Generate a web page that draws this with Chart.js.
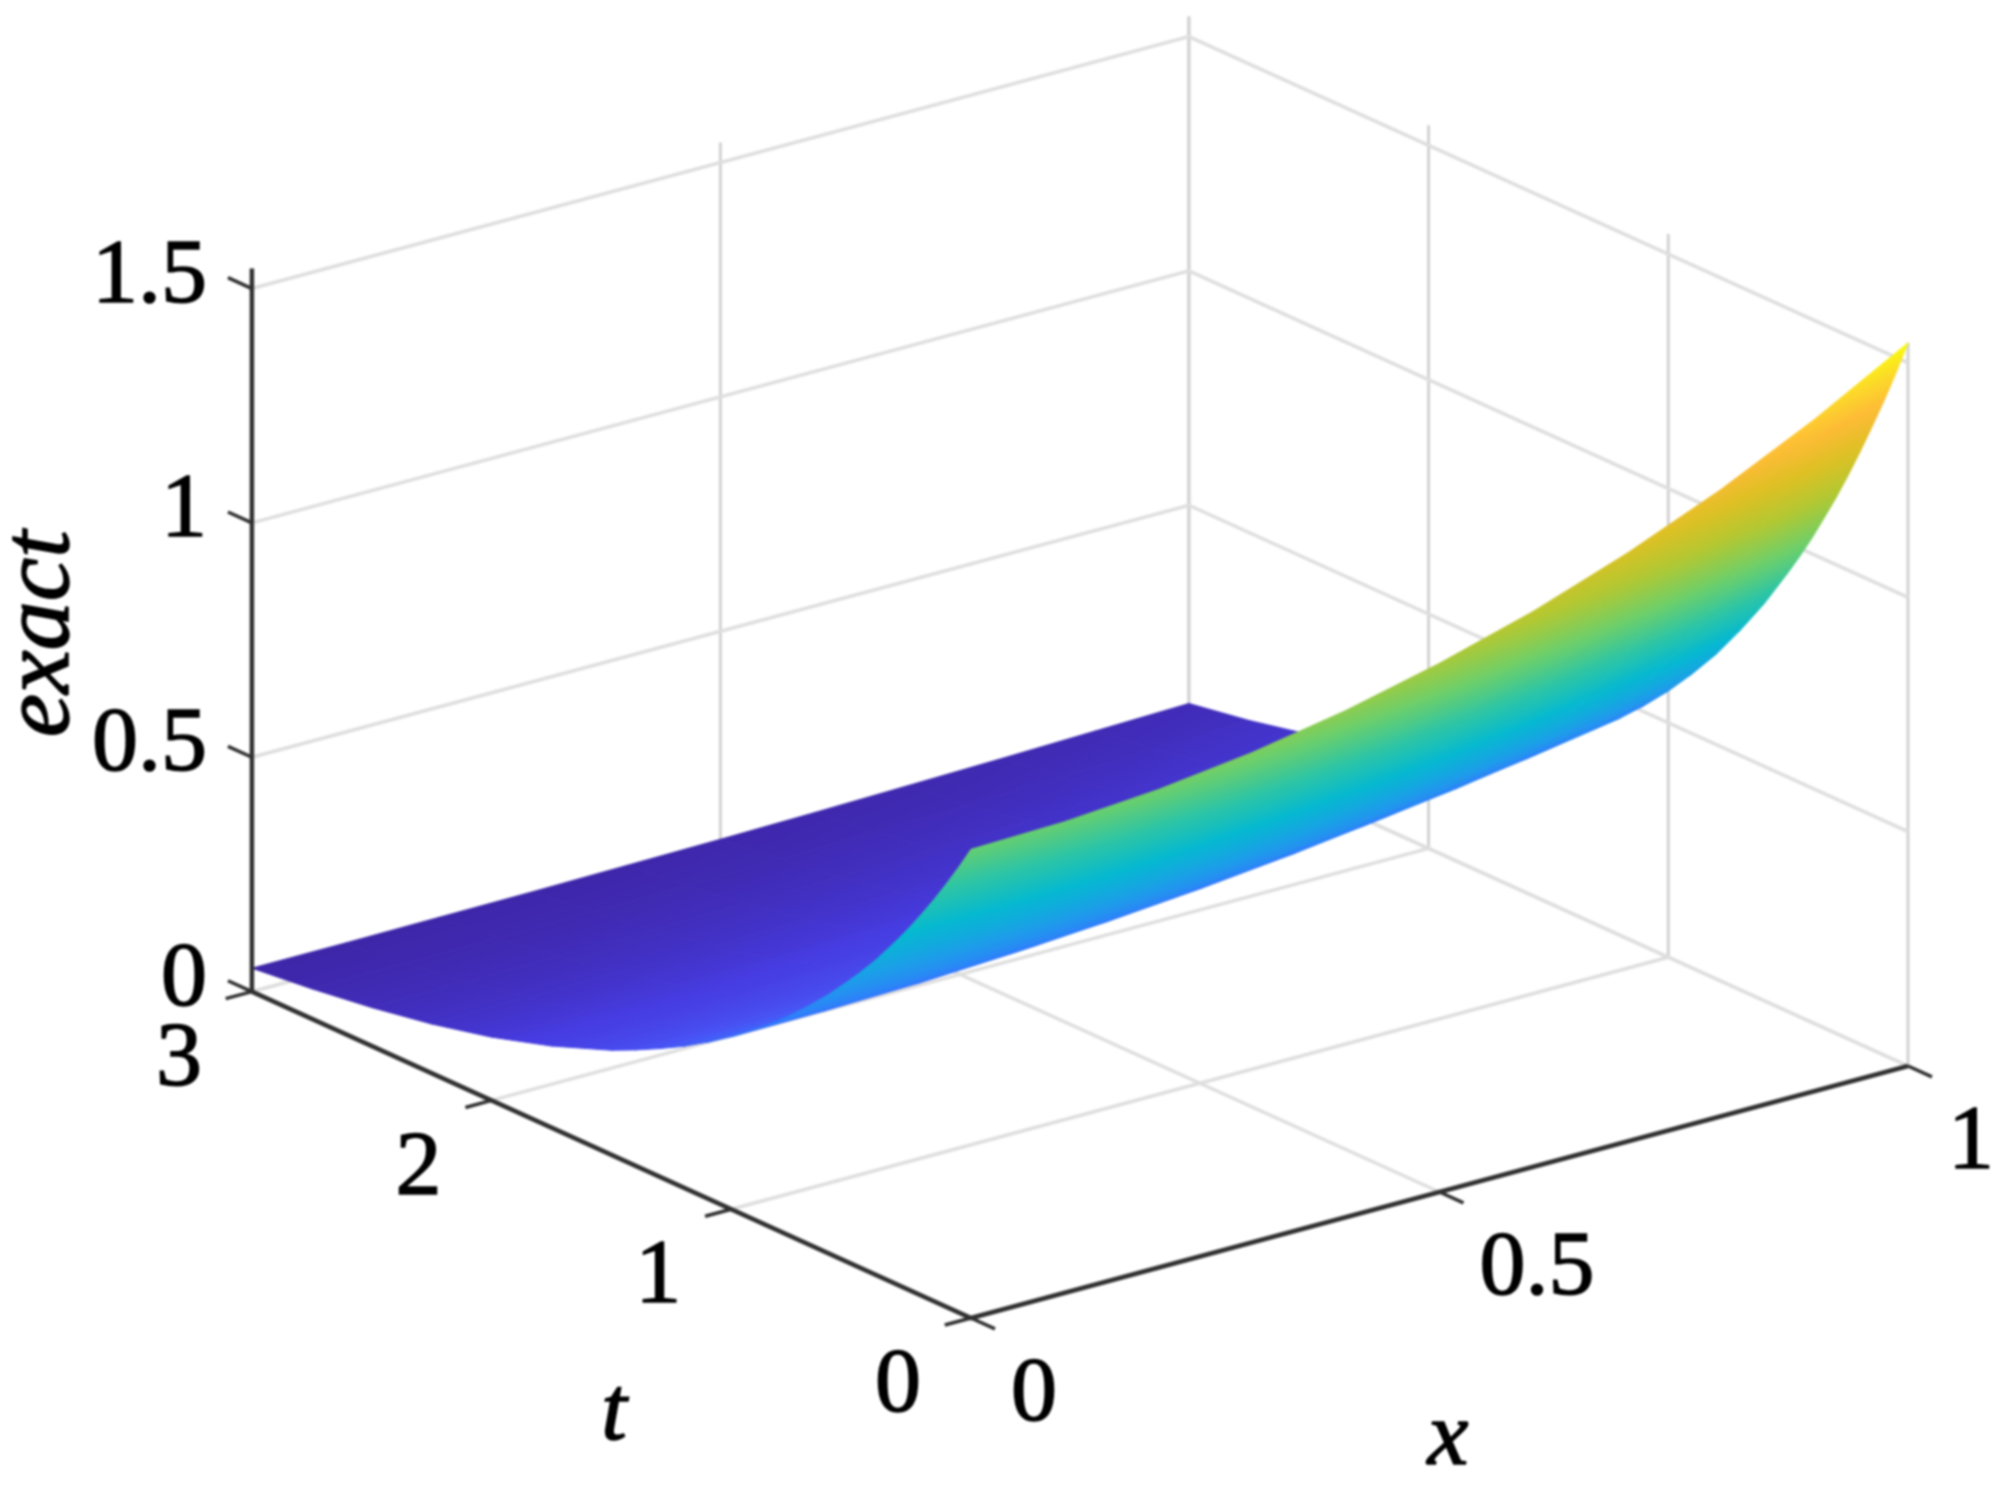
<!DOCTYPE html>
<html>
<head>
<meta charset="utf-8">
<title>exact</title>
<script src="https://cdn.jsdelivr.net/npm/chart.js@4/dist/chart.umd.js"></script>
<style>
    html, body { margin: 0; padding: 0; background: #fff; }
    /* the reference is a soft upscale */
    canvas { display: block; filter: blur(0.8px); }
</style>
</head>
<body>
<canvas id="chart" width="2000" height="1499"></canvas>
<script>
const xTicks = [0, 0.5, 1];
const tTicks = [0, 1, 2, 3];
const zTicks = [0, 0.5, 1, 1.5];
const xTickLabels = ['0', '0.5', '1'];
const tTickLabels = ['0', '1', '2', '3'];
const zTickLabels = ['0', '0.5', '1', '1.5'];
const zTop = 1.543;

// surface, one row per t, one column per x
const xGrid = [0, 0.1, 0.2, 0.3, 0.4, 0.5, 0.6, 0.7, 0.8, 0.9, 1];
const tGrid = [0, 0.05, 0.1, 0.15, 0.2, 0.25, 0.3, 0.35, 0.4, 0.45, 0.5, 0.6, 0.7, 0.8, 0.9, 1, 1.1, 1.2, 1.3, 1.4, 1.5, 1.75, 2, 2.25, 2.5, 2.75, 3];
const exact = [
    [1.000, 1.005, 1.020, 1.045, 1.081, 1.128, 1.185, 1.255, 1.337, 1.433, 1.543],
    [0.951, 0.956, 0.970, 0.994, 1.028, 1.073, 1.127, 1.194, 1.271, 1.363, 1.467],
    [0.905, 0.910, 0.923, 0.946, 0.978, 1.021, 1.072, 1.136, 1.210, 1.297, 1.396],
    [0.861, 0.865, 0.878, 0.900, 0.931, 0.971, 1.020, 1.081, 1.151, 1.234, 1.329],
    [0.819, 0.823, 0.835, 0.856, 0.885, 0.924, 0.971, 1.028, 1.095, 1.174, 1.264],
    [0.779, 0.783, 0.795, 0.814, 0.842, 0.879, 0.923, 0.978, 1.042, 1.116, 1.202],
    [0.741, 0.745, 0.756, 0.774, 0.801, 0.836, 0.878, 0.930, 0.991, 1.062, 1.143],
    [0.705, 0.709, 0.719, 0.737, 0.762, 0.795, 0.835, 0.885, 0.943, 1.010, 1.088],
    [0.670, 0.673, 0.683, 0.700, 0.724, 0.756, 0.794, 0.841, 0.896, 0.960, 1.034],
    [0.638, 0.641, 0.651, 0.667, 0.690, 0.720, 0.756, 0.801, 0.853, 0.914, 0.984],
    [0.607, 0.610, 0.619, 0.634, 0.656, 0.685, 0.719, 0.762, 0.812, 0.870, 0.937],
    [0.549, 0.552, 0.560, 0.574, 0.593, 0.619, 0.651, 0.689, 0.734, 0.787, 0.847],
    [0.497, 0.499, 0.507, 0.519, 0.537, 0.561, 0.589, 0.624, 0.664, 0.712, 0.767],
    [0.449, 0.451, 0.458, 0.469, 0.485, 0.506, 0.532, 0.563, 0.600, 0.643, 0.693],
    [0.407, 0.409, 0.415, 0.425, 0.440, 0.459, 0.482, 0.511, 0.544, 0.583, 0.628],
    [0.368, 0.370, 0.375, 0.385, 0.398, 0.415, 0.436, 0.462, 0.492, 0.527, 0.568],
    [0.333, 0.335, 0.340, 0.348, 0.360, 0.376, 0.395, 0.418, 0.445, 0.477, 0.514],
    [0.301, 0.303, 0.307, 0.315, 0.325, 0.340, 0.357, 0.378, 0.402, 0.431, 0.464],
    [0.273, 0.274, 0.278, 0.285, 0.295, 0.308, 0.324, 0.343, 0.365, 0.391, 0.421],
    [0.247, 0.248, 0.252, 0.258, 0.267, 0.279, 0.293, 0.310, 0.330, 0.354, 0.381],
    [0.223, 0.224, 0.227, 0.233, 0.241, 0.252, 0.264, 0.280, 0.298, 0.320, 0.344],
    [0.174, 0.175, 0.177, 0.182, 0.188, 0.196, 0.206, 0.218, 0.233, 0.249, 0.268],
    [0.135, 0.136, 0.138, 0.141, 0.146, 0.152, 0.160, 0.169, 0.180, 0.193, 0.208],
    [0.105, 0.106, 0.107, 0.110, 0.114, 0.118, 0.124, 0.132, 0.140, 0.150, 0.162],
    [0.082, 0.082, 0.084, 0.086, 0.089, 0.092, 0.097, 0.103, 0.110, 0.118, 0.127],
    [0.064, 0.064, 0.065, 0.067, 0.069, 0.072, 0.076, 0.080, 0.086, 0.092, 0.099],
    [0.050, 0.050, 0.051, 0.052, 0.054, 0.056, 0.059, 0.063, 0.067, 0.072, 0.077],
];

const gridColor = '#dedede';
const wallColor = '#d2d2d2';
const axisColor = '#303030';
const serif = '"Liberation Serif", serif';

const parula = [
    [0.00, 62, 38, 168], [0.07, 70, 60, 225], [0.14, 72, 82, 244], [0.24, 50, 120, 254],
    [0.36, 30, 155, 235], [0.47, 5, 185, 208], [0.56, 45, 197, 165], [0.65, 110, 207, 105],
    [0.74, 178, 200, 50], [0.82, 222, 192, 35], [0.89, 254, 187, 55], [0.95, 252, 218, 40], [1.00, 249, 251, 14],
];
const zMin = 0.05;
const zMax = 1.543;

function parulaColor(z) {
    let f = Math.min(1, Math.max(0, (z - zMin) / (zMax - zMin)));
    for (let k = 1; k < parula.length; k++) {
        if (f <= parula[k][0]) {
            let a = parula[k - 1], b = parula[k];
            let w = (f - a[0]) / (b[0] - a[0]);
            return `rgb(${a[1] + w * (b[1] - a[1])},${a[2] + w * (b[2] - a[2])},${a[3] + w * (b[3] - a[3])})`;
        }
    }
    return 'rgb(249,251,14)';
}

// orthographic view of the box, from the corners of the axes in the picture
function project(x, t, z) {
    return {
        x: 971 + 937 * x - 239.7 * t,
        y: 1318 - 252 * x - 108.8 * t - 468.7 * z,
    };
}

function cellGradient(chart, i, j) {
    let ctx = chart.ctx;
    let sx = chart.scales.x, sy = chart.scales.y;
    let px = (x, t, z) => {
        let p = project(x, t, z);
        return { x: sx.getPixelForValue(p.x), y: sy.getPixelForValue(p.y) };
    };
    let z00 = exact[i][j], z10 = exact[i][j + 1], z01 = exact[i + 1][j], z11 = exact[i + 1][j + 1];
    let lo = Math.min(z00, z10, z01, z11), hi = Math.max(z00, z10, z01, z11);
    let p00 = px(xGrid[j], tGrid[i], z00);
    let p10 = px(xGrid[j + 1], tGrid[i], z10);
    let p01 = px(xGrid[j], tGrid[i + 1], z01);
    let ax = p10.x - p00.x, ay = p10.y - p00.y;
    let bx = p01.x - p00.x, by = p01.y - p00.y;
    let det = ax * by - ay * bx;
    // scales have no size yet on the first pass of the options
    if (!Number.isFinite(det) || Math.abs(det) < 1) return parulaColor((lo + hi) / 2);
    let da = z10 - z00, db = z01 - z00;
    let gx = (da * by - db * ay) / det;
    let gy = (db * ax - da * bx) / det;
    let g2 = gx * gx + gy * gy;
    if (g2 < 1e-12) return parulaColor((lo + hi) / 2);
    let grad = ctx.createLinearGradient(
        p00.x + gx / g2 * (lo - z00), p00.y + gy / g2 * (lo - z00),
        p00.x + gx / g2 * (hi - z00), p00.y + gy / g2 * (hi - z00));
    for (let k = 0; k <= 4; k++) {
        grad.addColorStop(k / 4, parulaColor(lo + (hi - lo) * k / 4));
    }
    return grad;
}

function lineSet(points, color, width) {
    return {
        data: points.map(p => project(p[0], p[1], p[2])),
        showLine: true,
        fill: false,
        borderColor: color,
        borderWidth: width,
        borderCapStyle: 'butt',
        pointRadius: 0,
    };
}

let datasets = [];

// axes come first, chart.js paints the first dataset on top
datasets.push(lineSet([[0, 3, 0], [0, 3, zTop]], axisColor, 4.5));
datasets.push(lineSet([[0, 3, 0], [0, 0, 0], [1, 0, 0]], axisColor, 4.5));
zTicks.forEach(z => datasets.push(lineSet([[0, 3, z], [0, 3.1, z]], axisColor, 3.5)));
tTicks.forEach(t => datasets.push(lineSet([[0, t, 0], [-0.028, t, 0]], axisColor, 3.5)));
xTicks.forEach(x => datasets.push(lineSet([[x, 0, 0], [x, -0.1, 0]], axisColor, 3.5)));

// nearest cells first, so they cover the far ones where the sheet folds
for (let i = 0; i < tGrid.length - 1; i++) {
    for (let j = 0; j < xGrid.length - 1; j++) {
        let fillStyle = context => cellGradient(context.chart, i, j);
        datasets.push({
            data: [
                project(xGrid[j], tGrid[i], exact[i][j]),
                project(xGrid[j + 1], tGrid[i], exact[i][j + 1]),
                project(xGrid[j + 1], tGrid[i + 1], exact[i + 1][j + 1]),
                project(xGrid[j], tGrid[i + 1], exact[i + 1][j]),
                project(xGrid[j], tGrid[i], exact[i][j]),
            ],
            showLine: true,
            fill: 'shape',
            backgroundColor: fillStyle,
            borderColor: fillStyle,
            borderWidth: 1,
            pointRadius: 0,
        });
    }
}

zTicks.forEach(z => datasets.push(lineSet([[0, 3, z], [1, 3, z], [1, 0, z]], gridColor, 3.5)));
xTicks.forEach(x => {
    datasets.push(lineSet([[x, 3, 0], [x, 3, zTop]], wallColor, 3));
    datasets.push(lineSet([[x, 0, 0], [x, 3, 0]], gridColor, 3.5));
});
tTicks.forEach(t => {
    datasets.push(lineSet([[1, t, 0], [1, t, zTop]], wallColor, 3));
    datasets.push(lineSet([[0, t, 0], [1, t, 0]], gridColor, 3.5));
});

const axisText = {
    id: 'axisText',
    afterDatasetsDraw(chart) {
        let ctx = chart.ctx;
        let sx = chart.scales.x, sy = chart.scales.y;
        let put = (text, p, dx, dy, align) => {
            ctx.textAlign = align;
            ctx.fillText(text, sx.getPixelForValue(p.x) + dx, sy.getPixelForValue(p.y) + dy);
            ctx.strokeText(text, sx.getPixelForValue(p.x) + dx, sy.getPixelForValue(p.y) + dy);
        };
        ctx.save();
        ctx.fillStyle = '#000';
        ctx.strokeStyle = '#000';
        ctx.lineWidth = 1.6;
        ctx.textBaseline = 'middle';
        ctx.font = `92px ${serif}`;
        zTicks.forEach((z, k) => put(zTickLabels[k], project(0, 3, z), -45, -11, 'right'));
        tTicks.forEach((t, k) => put(tTickLabels[k], project(0, t, 0), -73, 69, 'center'));
        xTicks.forEach((x, k) => put(xTickLabels[k], project(x, 0, 0), 40, 78, 'left'));
        ctx.font = `italic 92px ${serif}`;
        put('t', { x: 614, y: 1415 }, 0, 0, 'center');
        put('x', { x: 1448, y: 1440 }, 0, 0, 'center');
        ctx.translate(sx.getPixelForValue(42), sy.getPixelForValue(634));
        ctx.rotate(-Math.PI / 2);
        ctx.font = `italic 98px ${serif}`;
        ctx.textAlign = 'center';
        ctx.fillText('exact', 0, 0);
        ctx.strokeText('exact', 0, 0);
        ctx.restore();
    },
};

new Chart(document.getElementById('chart'), {
    type: 'scatter',
    data: { datasets: datasets },
    plugins: [axisText],
    options: {
        responsive: false,
        animation: false,
        layout: { padding: 0 },
        plugins: {
            legend: { display: false },
            tooltip: { enabled: false },
        },
        elements: { line: { tension: 0 } },
        scales: {
            x: { type: 'linear', min: 0, max: 2000, display: false },
            y: { type: 'linear', min: 0, max: 1499, reverse: true, display: false },
        },
    },
});
</script>
</body>
</html>
